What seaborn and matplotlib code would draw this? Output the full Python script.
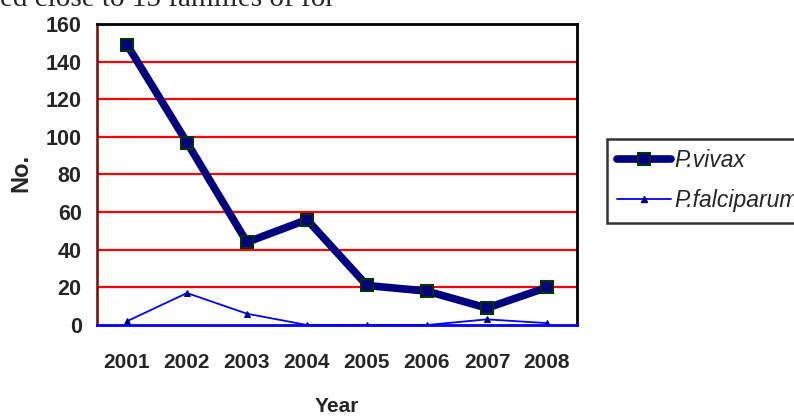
# Line chart of malaria cases by year: P.vivax vs P.falciparum

import pandas as pd
import matplotlib
matplotlib.use("Agg")
import matplotlib.pyplot as plt
from matplotlib.lines import Line2D
import seaborn as sns

# Data
years = ["2001", "2002", "2003", "2004", "2005", "2006", "2007", "2008"]
vivax = [149, 97, 44, 56, 21, 18, 9, 20]
falciparum = [2, 17, 6, 0, 0, 0, 3, 1]
y_ticks = [0, 20, 40, 60, 80, 100, 120, 140, 160]

# Long table for seaborn
df = pd.DataFrame({
    "Year": years * 2,
    "No.": vivax + falciparum,
    "species": ["P.vivax"] * len(years) + ["P.falciparum"] * len(years),
})

sns.set_style("white")
plt.rcParams["font.family"] = ["Liberation Sans", "DejaVu Sans"]

fig = plt.figure(figsize=(7.94, 4.19), dpi=100)
ax = fig.add_axes([97 / 794, 94 / 419, 480 / 794, 301 / 419])

# red horizontal grid lines
for v in y_ticks[1:-1]:
    ax.axhline(v, color="#ff0000", lw=1.6, zorder=0)

sns.lineplot(data=df[df["species"] == "P.falciparum"], x="Year", y="No.",
             color="#0000ff", lw=1.3, marker="^", markersize=5,
             markerfacecolor="#000080", markeredgecolor="#000080", ax=ax, zorder=3)
sns.lineplot(data=df[df["species"] == "P.vivax"], x="Year", y="No.",
             color="#000080", lw=5.5, marker="s", markersize=9,
             markerfacecolor="#000080", markeredgecolor="#003300",
             markeredgewidth=1.5, ax=ax, zorder=4)

ax.set_xlim(-0.5, len(years) - 0.5)
ax.set_ylim(0, 160)
ax.set_yticks(y_ticks)
ax.set_yticklabels([str(t) for t in y_ticks], fontsize=15.5, fontweight="bold")
ax.set_xticks(range(len(years)))
ax.set_xticklabels(years, fontsize=15, fontweight="bold")
ax.set_xticks([i - 0.5 for i in range(len(years) + 1)], minor=True)
ax.tick_params(axis="x", which="major", length=0, pad=20)
ax.tick_params(axis="x", which="minor", length=4, width=1.8, color="#0000ff", direction="out")
ax.tick_params(axis="y", length=6, width=1.8, color="#800000", direction="out", pad=5)

ax.set_xlabel("Year", fontsize=15, fontweight="bold")
ax.set_ylabel("No.", fontsize=17, fontweight="bold")
ax.xaxis.set_label_coords(0.5, (325 - 397) / 301)
ax.yaxis.set_label_coords((32 - 97) / 480, (325 - 173) / 301)

ax.spines["left"].set_color("#800000")
ax.spines["left"].set_linewidth(1.8)
ax.spines["bottom"].set_color("#0000ff")
ax.spines["bottom"].set_linewidth(2)
ax.spines["top"].set_color("black")
ax.spines["top"].set_linewidth(2)
ax.spines["right"].set_color("black")
ax.spines["right"].set_linewidth(2)
ax.spines["bottom"].set_zorder(5)

if ax.get_legend() is not None:
    ax.get_legend().remove()

handles = [
    Line2D([], [], color="#000080", lw=5.5, marker="s", markersize=8,
           markerfacecolor="#000080", markeredgecolor="#003300", markeredgewidth=1.5),
    Line2D([], [], color="#0000ff", lw=1.3, marker="^", markersize=5,
           markerfacecolor="#000080", markeredgecolor="#000080"),
]
leg = fig.legend(handles, ["P.vivax", "P.falciparum"], loc="upper left",
                 bbox_to_anchor=(607 / 794, 1 - 139 / 419), frameon=True,
                 fancybox=False, edgecolor="black", handlelength=2.35,
                 handletextpad=0.15, borderpad=0.45, borderaxespad=0,
                 labelspacing=0.75, prop={"size": 16.5, "style": "italic"})
leg.get_frame().set_linewidth(1.8)

# cropped document text at the very top
fig.text(0.0, 1 - 6 / 419, "ed close to 15 families of for", fontsize=21,
         family="Liberation Serif", va="baseline", ha="left")

plt.savefig("out.png", dpi=100)
plt.close()
